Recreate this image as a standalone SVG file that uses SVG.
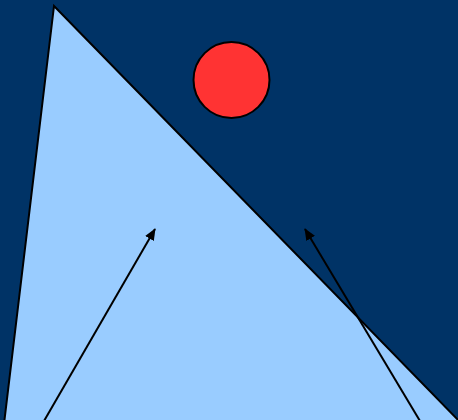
<svg xmlns="http://www.w3.org/2000/svg" width="458" height="420" viewBox="0 0 458 420">
<defs>
<marker id="ah" markerWidth="12" markerHeight="10" refX="11" refY="5" orient="auto" markerUnits="userSpaceOnUse">
<path d="M0,0 L12,5 L0,10 Z" fill="#000"/>
</marker>
<style>
.ln{stroke:#000;stroke-width:2;fill:none}
</style>
</defs>
<rect x="0" y="0" width="458" height="420" fill="#003366"/>
<g id="mountain">
<polygon points="54,6 4,424 462,424" fill="#99CCFF" stroke="#000" stroke-width="2" stroke-linejoin="miter"/>
</g>
<g id="sun">
<circle cx="231.5" cy="80" r="38" fill="#FF3333" stroke="#000" stroke-width="2"/>
</g>
<g id="connectors">
<line class="ln" x1="44" y1="421" x2="155" y2="229" marker-end="url(#ah)"/>
<line class="ln" x1="420" y1="421" x2="305" y2="229" marker-end="url(#ah)"/>
</g>
</svg>
